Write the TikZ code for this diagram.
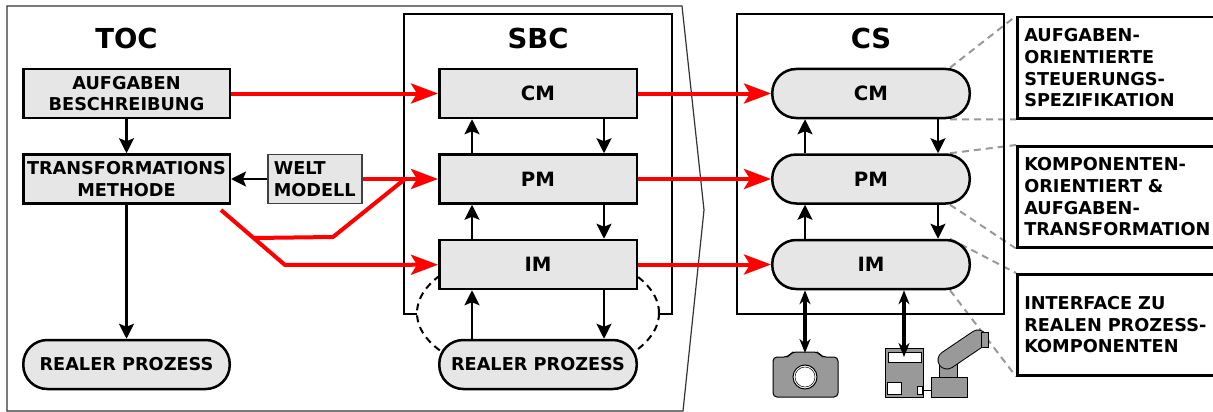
\documentclass[tikz,border=0pt]{standalone}
\usepackage{fontspec}
\setmainfont{DejaVu Sans}
\usepackage{xcolor}
\usetikzlibrary{positioning,arrows.meta,backgrounds}
\definecolor{boxgray}{HTML}{E6E6E6}
\definecolor{icongray}{HTML}{999999}
\definecolor{leadgray}{HTML}{999999}
\newcommand{\lblfont}{\fontsize{17.7}{21.7}\selectfont\bfseries}
\newcommand{\modfont}{\fontsize{19.7}{22}\selectfont\bfseries}
\newcommand{\ttlfont}{\fontsize{27.5}{30}\selectfont\bfseries}

\begin{document}
\begin{tikzpicture}[x=1pt,y=-1pt,
	>={Stealth[length=15pt,width=15pt,inset=3pt]},
	blk/.style={->,line width=2.3pt},
	redarr/.style={line width=4pt,red,-{Stealth[length=27pt,width=20pt,inset=6pt]}},
	redline/.style={line width=4pt,red},
	dbl/.style={{Stealth[length=14pt,width=11pt]}-{Stealth[length=14pt,width=11pt]},line width=3.5pt},
	box/.style={draw,line width=2.5pt,fill=boxgray,minimum width=197.5pt,minimum height=49pt,inner sep=0pt,align=center,font=\lblfont},
	modbox/.style={box,font=\modfont},
	tocbox/.style={box,minimum width=206.5pt},
	pill/.style={box,rounded corners=24pt},
	modpill/.style={pill,font=\modfont},
	weltbox/.style={draw=black!75,line width=1.5pt,fill=boxgray,minimum height=49pt,inner xsep=6pt,inner ysep=0pt,align=left,font=\lblfont},
	notebox/.style={draw,line width=2.5pt,anchor=north west,text width=190pt,inner xsep=7pt,minimum height=101pt,align=left,font=\lblfont},
	frame/.style={line width=2.5pt},
	leader/.style={draw=leadgray,line width=2pt,dash pattern=on 7pt off 5pt},
	icon/.style={fill=icongray,draw=black,line width=1pt},
	title/.style={font=\ttlfont}]
	\useasboundingbox (0,0) rectangle (1213,412);

	% frames
	\draw[line width=1.2pt,black!80] (7,6) -- (682,6) -- (704,210) -- (683,411) -- (7,411) -- cycle;
	\draw[frame] (417,314) -- (404,314) -- (404,14) -- (672,14) -- (672,314) -- (658,314);
	\draw[frame] (737,14) rectangle (1004,314);
	\draw[line width=2pt,dash pattern=on 7pt off 5pt] (538,313) ellipse (121pt and 64pt);

	% TOC
	\node[title] (toct) at (126.5,38) {TOC};
	\node[tocbox] (aufg) at (126.5,93.5) {AUFGABEN\\BESCHREIBUNG};
	\node[tocbox] (trans) [below=34pt of aufg] {TRANSFORMATIONS\\METHODE};
	\node[weltbox] (welt) [right=36pt of trans] {WELT\\MODELL};
	\node[pill,minimum width=206.5pt] (tocreal) at (126.5,364.5) {REALER PROZESS};

	% SBC
	\node[title] (sbct) at (538,38) {SBC};
	\node[modbox] (sbccm) at (538,93.5) {CM};
	\node[modbox] (sbcpm) [below=34pt of sbccm] {PM};
	\node[modbox] (sbcim) [below=34pt of sbcpm] {IM};
	\node[pill] (sbcreal) at (538,364.5) {REALER PROZESS};

	% CS
	\node[title] (cst) at (871,38) {CS};
	\node[modpill] (cscm) at (871,93.5) {CM};
	\node[modpill] (cspm) [below=34pt of cscm] {PM};
	\node[modpill] (csim) [below=34pt of cspm] {IM};

	% notes
	\node[notebox] (n1) at (1016,16) {AUFGABEN-\\ORIENTIERTE\\STEUERUNGS-\\SPEZIFIKATION};
	\node[notebox] (n2) at (1016,145) {KOMPONENTEN-\\ORIENTIERT \&\\AUFGABEN-\\TRANSFORMATION};
	\node[notebox] (n3) at (1016,273) {INTERFACE ZU\\REALEN PROZESS-\\KOMPONENTEN};

	\begin{pgfonlayer}{background}
		\draw[leader] ([xshift=-21pt]cscm.north east) -- (n1.north west);
		\draw[leader] ([xshift=-21pt]cscm.south east) -- (n1.south west);
		\draw[leader] ([xshift=-21pt]cspm.north east) -- (n2.north west);
		\draw[leader] ([xshift=-21pt]cspm.south east) -- (n2.south west);
		\draw[leader] ([xshift=-21pt]csim.north east) -- (n3.north west);
		\draw[leader] ([xshift=-21pt]csim.south east) -- (n3.south west);
	\end{pgfonlayer}

	% black arrows
	\draw[blk] (aufg) -- (trans);
	\draw[blk] (welt) -- (trans);
	\draw[blk] (trans) -- (tocreal);
	\foreach \lo/\hi in {sbcpm/sbccm,sbcim/sbcpm,sbcreal/sbcim,cspm/cscm,csim/cspm}{
		\draw[blk] ([xshift=34pt]\lo.north west) -- ([xshift=34pt]\hi.south west);
	}
	\foreach \hi/\lo in {sbccm/sbcpm,sbcpm/sbcim,sbcim/sbcreal}{
		\draw[blk] ([xshift=-34pt]\hi.south east) -- ([xshift=-34pt]\lo.north east);
	}
	\foreach \hi/\lo in {cscm/cspm,cspm/csim}{
		\draw[blk] ([xshift=-33pt]\hi.south east) -- ([xshift=-33pt]\lo.north east);
	}

	% red arrows
	\coordinate (tstart) at (221,210);
	\coordinate (tbend) at (285,265);
	\coordinate (tfork) at (254,238);
	\coordinate (wknee) at (333,237);
	\coordinate (wjoin) at (405,179);
	\draw[redarr] (aufg) -- (sbccm);
	\draw[redarr] (welt) -- (sbcpm);
	\draw[redline,line join=round] (tfork) -- (wknee) -- (wjoin);
	\draw[redarr,line join=round] (tstart) -- (tbend) -- (sbcim);
	\draw[redarr] (sbccm) -- (cscm);
	\draw[redarr] (sbcpm) -- (cspm);
	\draw[redarr] (sbcim) -- (csim);

	% camera and plant
	\coordinate (cam) at (805,353);
	\coordinate (ctrl) at (904,357);
	\filldraw[icon,rounded corners=4pt] (773,357) -- (788,357) -- (792,352) -- (818,352) -- (822,357) -- (838,357) -- (838,397) -- (773,397) -- cycle;
	\filldraw[fill=white,draw=black,line width=1pt] (805,377) circle (12pt);
	\draw[line width=0.5pt] (805,377) circle (10pt);
	\filldraw[icon] (885,348) rectangle (923,397);
	\filldraw[fill=white,draw=black,line width=1pt] (888,352) rectangle (921,362);
	\filldraw[fill=white,draw=black,line width=1pt] (887,382) rectangle (901,394);
	\filldraw[fill=white,draw=black,line width=1pt] (917,386) rectangle (922,394);
	\draw[line width=1pt] (922,390) -- (931,390);
	\filldraw[icon] (931,377) rectangle (967,397);
	\filldraw[icon] (939,362) rectangle (957,377);
	\draw[line width=19pt,line cap=round] (947,360) -- (978,339);
	\draw[line width=17pt,icongray,line cap=round] (947,360) -- (978,339);
	\filldraw[icon] (981,332) rectangle (988,347);
	\draw[dbl] ([xshift=34pt]csim.south west) -- (cam);
	\draw[dbl] ([xshift=133pt]csim.south west) -- (ctrl);
\end{tikzpicture}
\end{document}
